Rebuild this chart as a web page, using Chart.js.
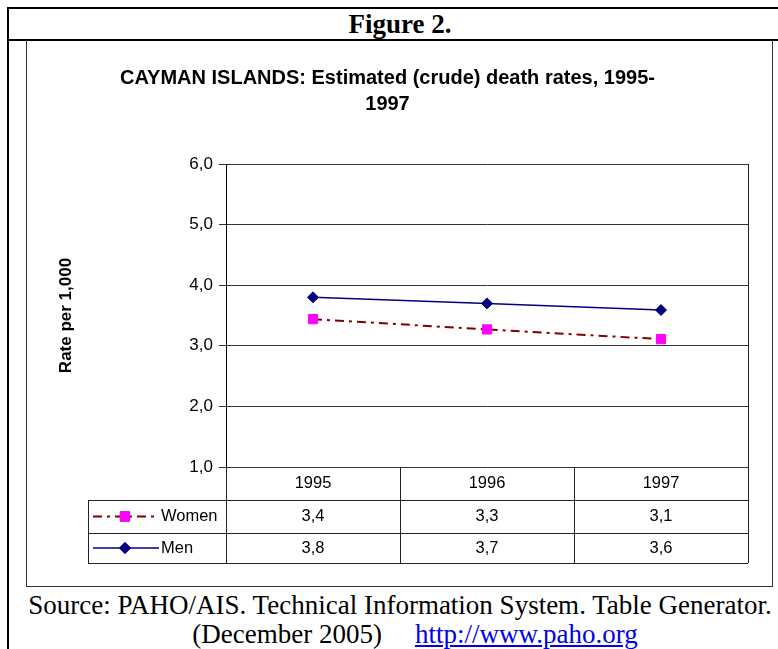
<!DOCTYPE html>
<html>
<head>
<meta charset="utf-8">
<script src="https://cdn.jsdelivr.net/npm/chart.js@4"></script>
<style>
  html, body { margin: 0; padding: 0; background: #fff; }
  body { width: 778px; height: 649px; position: relative; overflow: hidden; }
  .line { position: absolute; background: #000; }
  #heading { position: absolute; left: 8px; top: 9px; width: 784px; height: 31px; text-align: center;
    font: bold 27px "Liberation Serif", "Times New Roman", serif; line-height: 31px; }
  #box { position: absolute; left: 26px; top: 40px; width: 745px; height: 546px; border: 1.5px solid #333; border-top: none; }
  #wrap { position: absolute; left: 27px; top: 41px; }
  #source { position: absolute; left: 0px; top: 591px; width: 800px; text-align: center;
    font: 27px "Liberation Serif", "Times New Roman", serif; line-height: 29px; white-space: nowrap; }
  #source a { color: #0000ee; margin-left: 33px; }
  #source .l2 { display: inline-block; padding-left: 30px; }
</style>
</head>
<body>
<div class="line" style="left:7px;top:7px;width:771px;height:2px"></div>
<div class="line" style="left:7px;top:7px;width:2px;height:642px"></div>
<div class="line" style="left:7px;top:39px;width:771px;height:2px"></div>
<div id="heading">Figure 2.</div>
<div id="box"></div>
<div id="wrap"><canvas id="firstChart" width="744" height="545"></canvas></div>
<div id="source">Source: PAHO/AIS. Technical Information System. Table Generator.<br><span class="l2">(December 2005)<a href="#">http://www.paho.org</a></span></div>
<script>
const years = ["1995", "1996", "1997"];
const women = [3.44, 3.27, 3.11];
const men = [3.80, 3.70, 3.59];
const yMin = 1;
const yMax = 6;

const firstChart = document.querySelector("#firstChart");

function fmt(v) {
  return v.toFixed(1).replace(".", ",");
}

// data table under the plot, with legend keys in the first column
const tablePlugin = {
  id: "dataTable",
  afterDraw(chart) {
    const ctx = chart.ctx;
    const ca = chart.chartArea;
    const xs = chart.scales.x;
    const colW = ca.width / years.length;
    const r0 = ca.bottom, r1 = r0 + 33, r2 = r1 + 33, r3 = r2 + 30;
    const legLeft = 61;

    ctx.save();
    ctx.strokeStyle = "#222";
    ctx.lineWidth = 1;
    ctx.beginPath();
    // right edge of plot area + table
    ctx.moveTo(ca.right + 0.5, ca.top);
    ctx.lineTo(ca.right + 0.5, r3);
    for (let i = 0; i < years.length; i++) {
      const x = Math.round(ca.left + i * colW) + 0.5;
      ctx.moveTo(x, r0);
      ctx.lineTo(x, r3);
    }
    ctx.moveTo(legLeft + 0.5, r1);
    ctx.lineTo(legLeft + 0.5, r3);
    [r1, r2, r3].forEach(y => {
      ctx.moveTo(legLeft, Math.round(y) + 0.5);
      ctx.lineTo(ca.right, Math.round(y) + 0.5);
    });
    ctx.stroke();

    ctx.fillStyle = "#000";
    ctx.font = "16.5px 'Liberation Sans', Arial, sans-serif";
    ctx.textAlign = "center";
    ctx.textBaseline = "middle";
    years.forEach((y, i) => {
      const x = xs.getPixelForValue(i);
      ctx.fillText(y, x, (r0 + r1) / 2);
      ctx.fillText(fmt(women[i]), x, (r1 + r2) / 2);
      ctx.fillText(fmt(men[i]), x, (r2 + r3) / 2);
    });

    // legend keys
    const rows = [(r1 + r2) / 2, (r2 + r3) / 2];
    chart.data.datasets.forEach((ds, k) => {
      const y = rows[k];
      ctx.save();
      ctx.strokeStyle = ds.borderColor;
      ctx.lineWidth = ds.borderWidth;
      ctx.setLineDash(ds.borderDash || []);
      ctx.beginPath();
      ctx.moveTo(legLeft + 5, y);
      ctx.lineTo(legLeft + 71, y);
      ctx.stroke();
      ctx.restore();
      Chart.helpers.drawPoint(ctx, {
        pointStyle: ds.pointStyle,
        radius: ds.pointRadius,
        borderWidth: 1
      }, legLeft + 37, y);
      ctx.fillStyle = ds.pointBackgroundColor;
      ctx.strokeStyle = ds.pointBorderColor;
      ctx.fill();
      ctx.stroke();
      ctx.fillStyle = "#000";
      ctx.textAlign = "left";
      ctx.fillText(ds.label, legLeft + 73, y);
    });
    ctx.restore();
  }
};

new Chart(firstChart, {
  type: "line",
  data: {
    labels: years,
    datasets: [{
      label: "Women",
      data: women,
      borderColor: "#800000",
      borderWidth: 2,
      borderDash: [9, 5, 3, 5],
      pointStyle: "rect",
      pointRadius: 6.5,
      pointBackgroundColor: "#ff00ff",
      pointBorderColor: "#ff00ff",
      pointBorderWidth: 1,
      tension: 0
    }, {
      label: "Men",
      data: men,
      borderColor: "#000080",
      borderWidth: 1.5,
      pointStyle: "rectRot",
      pointRadius: 5.5,
      pointBackgroundColor: "#000080",
      pointBorderColor: "#000080",
      pointBorderWidth: 1,
      tension: 0
    }]
  },
  options: {
    responsive: false,
    animation: false,
    layout: { padding: { left: 0, top: 0, right: 23, bottom: 119 } },
    plugins: {
      legend: { display: false },
      tooltip: { enabled: false },
      title: {
        display: true,
        text: ["CAYMAN ISLANDS: Estimated (crude) death rates, 1995-", "1997"],
        color: "#000",
        font: { family: "'Liberation Sans', Arial, sans-serif", size: 20, weight: "bold", lineHeight: 26 / 20 },
        padding: { top: 24, bottom: 47 }
      }
    },
    scales: {
      x: {
        display: false,
        offset: true
      },
      y: {
        min: yMin,
        max: yMax,
        afterFit(scale) { scale.width = 199; },
        ticks: {
          stepSize: 1,
          padding: 6,
          color: "#000",
          font: { family: "'Liberation Sans', Arial, sans-serif", size: 17 },
          callback: v => fmt(v)
        },
        grid: { color: "#333", lineWidth: 1, tickLength: 7 },
        border: { color: "#000", width: 1 },
        title: {
          display: true,
          text: "Rate per 1,000",
          color: "#000",
          font: { family: "'Liberation Sans', Arial, sans-serif", size: 17, weight: "bold" },
          padding: { top: 29 }
        }
      }
    }
  },
  plugins: [tablePlugin]
});
</script>
</body>
</html>
